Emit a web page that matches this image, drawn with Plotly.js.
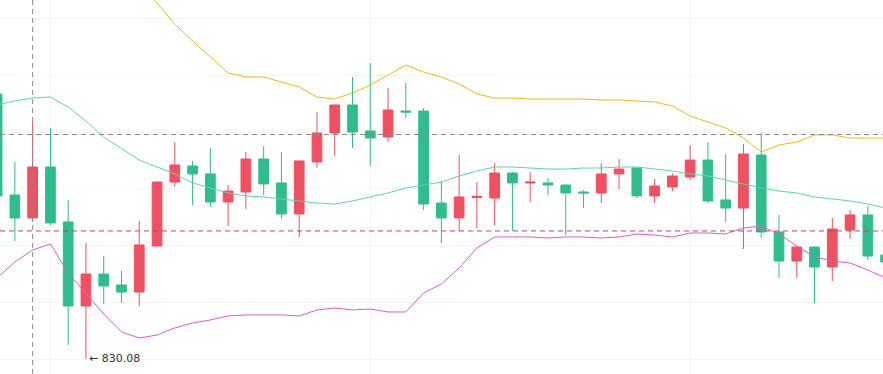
<!DOCTYPE html>
<html>
<head>
<meta charset="utf-8">
<script src="https://cdn.plot.ly/plotly-3.0.1.min.js"></script>
<style>html,body{margin:0;padding:0;background:#fff;}#chart{width:883px;height:374px;}</style>
</head>
<body>
<div id="chart"></div>
<script>
// candle index (time slots)
const idx = [0,1,2,3,4,5,6,7,8,9,10,11,12,13,14,15,16,17,18,19,20,21,22,23,24,25,26,27,28,29,30,31,32,33,34,35,36,37,38,39,40,41,42,43,44,45,46,47,48,49,50];

const openP  = [853.33,844.47,842.46,846.93,842.11,834.74,837.54,836.58,835.96,840.00,845.61,847.02,846.32,843.86,844.74,847.63,845.53,842.81,847.37,849.91,852.37,850.09,849.56,851.84,851.84,843.77,842.46,844.25,844.21,846.40,845.53,845.53,845.35,844.74,844.65,846.32,846.84,844.39,845.18,846.05,847.54,844.04,843.33,847.98,841.23,838.68,839.91,838.16,841.40,842.72,839.21];
const highP  = [854.00,847.37,850.96,850.35,844.04,840.26,839.12,837.81,842.19,845.70,849.12,847.46,848.60,845.35,848.25,848.77,848.25,847.50,851.75,852.40,854.82,856.05,853.86,854.30,852.11,845.70,847.98,845.61,847.28,846.49,846.49,845.96,845.40,844.90,847.28,847.63,846.90,845.88,846.40,848.86,849.12,848.07,848.95,849.91,842.72,839.95,839.95,842.46,843.16,843.51,839.50];
const lowP   = [843.50,840.44,842.11,841.84,831.32,830.08,834.91,835.00,834.74,839.95,845.18,843.60,843.42,841.75,843.25,844.47,842.37,840.79,846.84,847.89,848.60,847.02,849.12,851.23,843.16,840.26,841.32,841.58,841.84,841.32,843.86,844.47,840.96,843.33,843.77,845.00,844.21,843.77,844.82,845.79,843.77,842.11,839.74,840.70,837.19,837.19,835.00,836.93,840.61,838.77,838.20];
const closeP = [844.39,842.46,846.93,842.02,834.74,837.54,836.49,835.96,840.09,845.61,847.11,846.32,843.86,844.82,847.63,845.44,842.81,847.46,849.91,852.37,850.00,849.47,851.93,851.75,843.68,842.46,844.30,844.35,846.40,845.53,845.61,845.35,844.65,844.65,846.32,846.75,844.39,845.26,846.14,847.54,843.95,843.33,848.07,841.23,838.68,839.91,838.16,841.49,842.72,839.12,838.60];

// Bollinger bands
const bollUp  = [867.54,866.84,866.32,865.96,866.75,866.14,865.09,864.56,863.16,861.32,859.47,857.98,856.58,855.18,854.82,854.82,854.39,853.95,853.07,852.89,853.42,854.12,855.00,855.88,855.26,854.82,854.21,853.33,852.98,852.98,852.89,852.89,852.89,852.89,852.81,852.81,852.72,852.63,852.28,851.40,850.88,850.35,849.47,848.25,848.86,849.12,849.74,849.74,849.47,849.47,849.47];
const bollMid = [852.37,852.72,852.98,853.07,852.19,850.96,849.56,848.51,847.54,846.93,846.32,845.53,845.09,844.65,844.39,844.30,844.12,843.95,843.77,843.68,843.95,844.30,844.65,845.09,845.35,845.61,846.14,846.58,846.93,846.93,846.84,846.75,846.75,846.84,846.84,846.93,846.93,846.75,846.58,846.32,846.14,845.79,845.44,845.09,844.82,844.65,844.30,844.12,843.95,843.68,843.33];
const bollLow = [837.19,838.60,839.65,840.18,837.63,835.79,834.04,832.46,831.93,832.19,832.81,833.25,833.51,833.86,833.95,833.95,833.95,833.86,834.39,834.56,834.39,834.47,834.21,834.21,835.88,836.67,838.07,839.82,840.79,840.79,840.79,840.70,840.79,840.79,840.70,840.79,841.05,840.96,840.79,841.14,841.14,841.05,841.58,841.75,841.05,840.00,839.04,838.68,838.51,837.89,837.19];

// reference lines and label
const refHigh = 849.78;
const refLast = 841.32;
const crossIdx = 2;
const minIdx = 5;
const minLabel = "← 830.08";

const RED = "#f0505f", GREEN = "#2ebd8f";

const traces = [
  {type:"scatter", mode:"lines", x:idx, y:bollUp, line:{color:"#f0b90b", width:1}, hoverinfo:"skip"},
  {type:"scatter", mode:"lines", x:idx, y:bollMid, line:{color:"#5cd3b5", width:1}, hoverinfo:"skip"},
  {type:"scatter", mode:"lines", x:idx, y:bollLow, line:{color:"#d95ccb", width:1}, hoverinfo:"skip"},
  {type:"candlestick", x:idx, open:openP, high:highP, low:lowP, close:closeP,
   increasing:{line:{color:RED, width:1}, fillcolor:RED},
   decreasing:{line:{color:GREEN, width:1}, fillcolor:GREEN},
   whiskerwidth:0, hoverinfo:"skip"}
];

const layout = {
  width:883, height:374,
  margin:{l:0,r:0,t:0,b:0},
  paper_bgcolor:"#ffffff", plot_bgcolor:"#ffffff",
  showlegend:false,
  boxgap:0.22,
  xaxis:{range:[0.163,49.853], showticklabels:false, zeroline:false, showline:false,
         showgrid:true, gridcolor:"#f4f4f4", gridwidth:1, tick0:3, dtick:18,
         rangeslider:{visible:false}, fixedrange:true},
  yaxis:{range:[828.77,861.58], showticklabels:false, zeroline:false, showline:false,
         showgrid:true, gridcolor:"#f4f4f4", gridwidth:1, tick0:830, dtick:5, fixedrange:true},
  shapes:[
    {type:"line", xref:"paper", x0:0, x1:1, yref:"y", y0:refHigh, y1:refHigh,
     line:{color:"#8a8a8a", width:1, dash:"5px,4px"}},
    {type:"line", xref:"paper", x0:0, x1:1, yref:"y", y0:refLast, y1:refLast,
     line:{color:"#b8455f", width:1, dash:"5px,4px"}},
    {type:"line", xref:"x", x0:crossIdx, x1:crossIdx, yref:"paper", y0:0, y1:1,
     line:{color:"#8a8a8a", width:1, dash:"5px,4px"}}
  ],
  annotations:[
    {x:minIdx, y:lowP[minIdx], xref:"x", yref:"y", text:minLabel, showarrow:false,
     xanchor:"left", yanchor:"middle", xshift:1, yshift:1,
     font:{family:"DejaVu Sans, sans-serif", size:11, color:"#333333"}}
  ]
};

Plotly.newPlot("chart", traces, layout, {displayModeBar:false, staticPlot:true});
</script>
</body>
</html>
